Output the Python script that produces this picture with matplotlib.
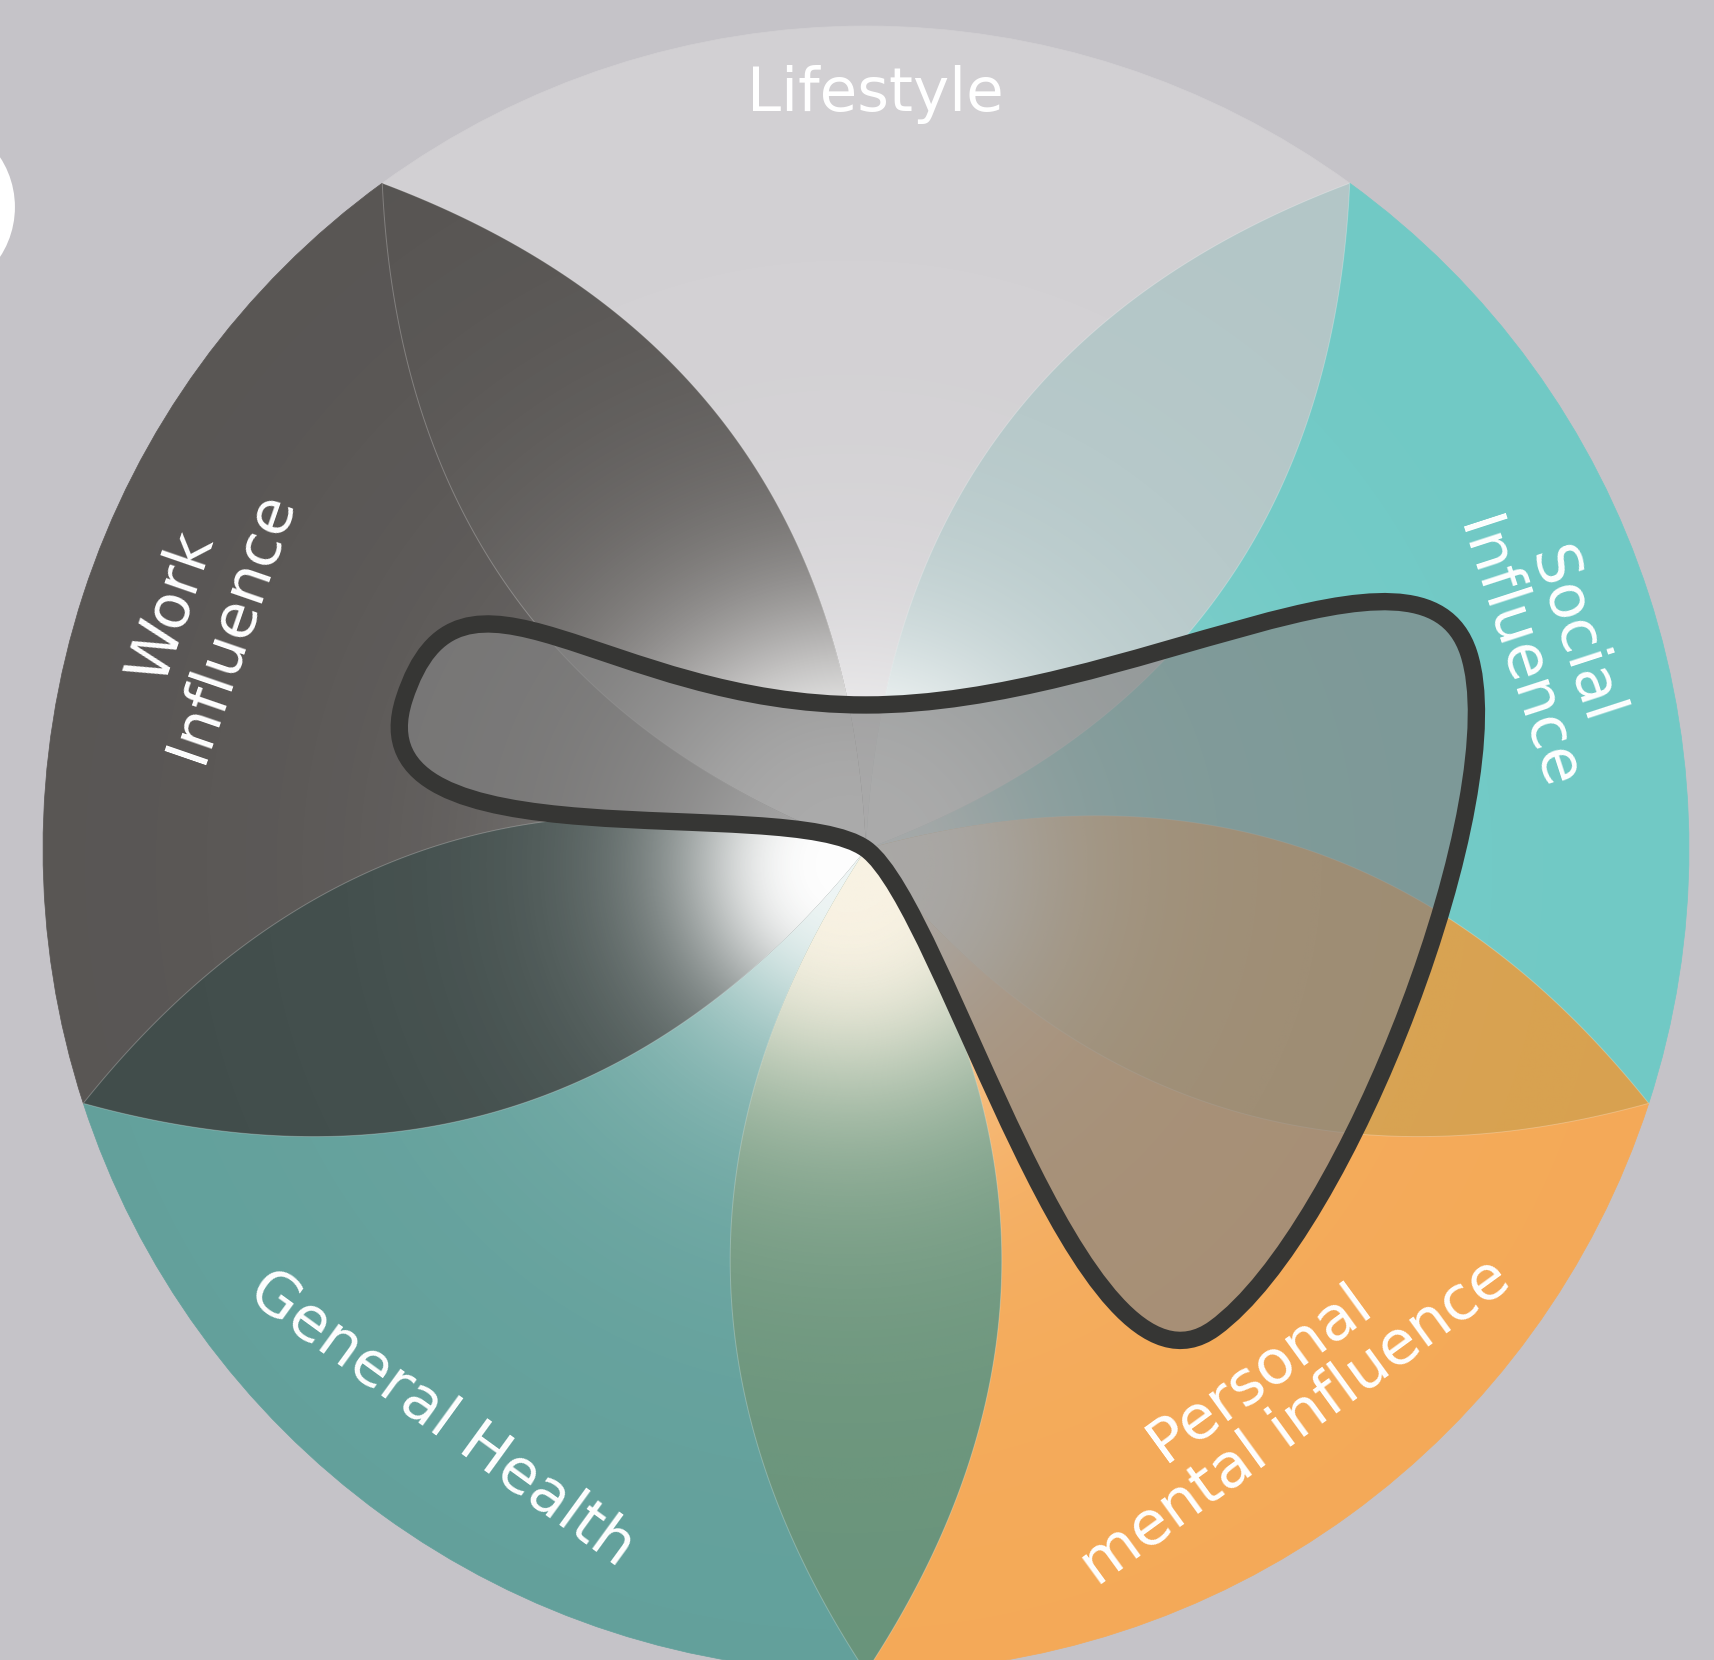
import numpy as np
import matplotlib
matplotlib.use("Agg")
import matplotlib.pyplot as plt
from matplotlib.patches import Wedge, Circle, PathPatch, Ellipse
from matplotlib.path import Path

# ---------------- data ----------------
categories = ["Lifestyle", "Social\nInfluence", "Personal\nmental influence",
              "General Health", "Work\nInfluence"]
values = [0.175, 0.77, 0.72, 0.0, 0.59]          # share of the full radius
sector_colors = ["#d2d0d3", "#70c9c5", "#f4a957", "#62a09b", "#585553"]
# petals sitting on the border between category i and category i+1
petal_colors = ["#b3c6c7", "#d8a14f", "#68937a", "#414d4b", "#565351"]
petal_glow = ["#ffffff", "#fbf7f0", "#faf3e4", "#ffffff", "#ffffff"]

# ---------------- style / layout ----------------
W_PX, H_PX = 1715, 1660
CX, CY, RPX = 866, 849, 823
BG = "#c5c3c8"
petal_halfwidth = 0.165
petal_glow_scale = [0.26, 0.26, 0.28, 0.20, 0.30]
blob_handles = [0.32, 0.18, 0.20, 0.12, 0.22]
label_pos = [(0.011, 0.897), (0.825, 0.248), (0.500, -0.667), (-0.515, -0.693), (-0.807, 0.283)]
label_rot = [0, -72, 36, -36, 71]
label_va = ["baseline", "center", "center", "center", "center"]

fig = plt.figure(figsize=(W_PX / 100, H_PX / 100), dpi=100, facecolor=BG)
ax = fig.add_axes([0, 0, 1, 1])
ax.set_xlim(-CX / RPX, (W_PX - CX) / RPX)
ax.set_ylim((CY - H_PX) / RPX, CY / RPX)
ax.axis("off")
ax.set_facecolor(BG)

n = len(categories)
step = 360.0 / n
theta = np.arange(n) * step            # compass angles (clockwise from top)

# stray white shape at the left border
ax.add_patch(Ellipse((-1.1446, 0.780), 0.221, 0.221, fc="white", ec="none", zorder=1))

# sectors
for i in range(n):
    a0 = 90 - theta[i] - step / 2
    a1 = 90 - theta[i] + step / 2
    ax.add_patch(Wedge((0, 0), 1.0, a0, a1, fc=sector_colors[i], ec=sector_colors[i],
                       lw=0.5, zorder=2))

# radial glow grid
g = np.linspace(-1, 1, 900)
GX, GY = np.meshgrid(g, g)
RR = np.hypot(GX + 0.02, GY + 0.02)

circle_clip = Circle((0, 0), 1.0, transform=ax.transData)
glow = np.ones(GX.shape + (4,))
glow[..., 3] = 0.9 / (1 + (RR / 0.22) ** 3)
im = ax.imshow(glow, extent=(-1, 1, -1, 1), origin="lower", zorder=3,
               interpolation="bilinear")
im.set_clip_path(circle_clip)

# petals on each border
t = np.linspace(0, 1, 120)
for k in range(n):
    b = np.deg2rad(theta[k] + step / 2)
    u = np.array([np.sin(b), np.cos(b)])
    p = np.array([np.cos(b), -np.sin(b)])
    w = petal_halfwidth * 4 * t * (1 - t)
    side1 = t[:, None] * u + w[:, None] * p
    side2 = (t[:, None] * u - w[:, None] * p)[::-1]
    pts = np.vstack([side1, side2, side1[:1]])
    path = Path(pts, closed=True)
    patch = PathPatch(path, fc=petal_colors[k], ec=(1, 1, 1, 0.25), lw=0.7, zorder=4)
    ax.add_patch(patch)
    rgba = np.zeros(GX.shape + (4,))
    rgba[..., :3] = matplotlib.colors.to_rgb(petal_glow[k])
    rgba[..., 3] = 1 / (1 + (RR / petal_glow_scale[k]) ** 3.5)
    im = ax.imshow(rgba, extent=(-1, 1, -1, 1), origin="lower", zorder=5,
                   interpolation="bilinear")
    im.set_clip_path(PathPatch(path, transform=ax.transData))

# smooth radar blob
th = np.deg2rad(theta)
vals = np.asarray(values)
P = vals[:, None] * np.c_[np.sin(th), np.cos(th)]
T = np.c_[np.cos(th), -np.sin(th)]
verts = [P[0]]
codes = [Path.MOVETO]
for i in range(n):
    j = (i + 1) % n
    verts += [P[i] + blob_handles[i] * T[i], P[j] - blob_handles[j] * T[j], P[j]]
    codes += [Path.CURVE4] * 3
verts.append(P[0])
codes.append(Path.CLOSEPOLY)
blob = Path(verts, codes)
ax.add_patch(PathPatch(blob, fc=(131 / 255, 131 / 255, 131 / 255, 0.68), ec="none", zorder=6))
ax.add_patch(PathPatch(blob, fc="none", ec="#363634", lw=12.5, joinstyle="round", zorder=7))

# labels
for i in range(n):
    ax.text(label_pos[i][0], label_pos[i][1], categories[i], color="white",
            fontsize=44, family="DejaVu Sans", weight="normal", ha="center", va=label_va[i],
            rotation=label_rot[i], rotation_mode="anchor", multialignment="center",
            linespacing=1.05, zorder=8)

fig.savefig("out.png", dpi=100, facecolor=BG)
